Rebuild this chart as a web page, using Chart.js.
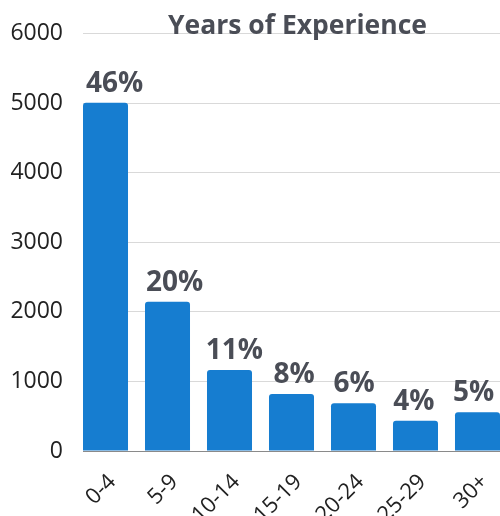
<!DOCTYPE html>
<html>
<head>
<meta charset="utf-8">
<script src="https://cdn.jsdelivr.net/npm/chart.js@4"></script>
<style>
  html, body { margin: 0; padding: 0; background: #fff; overflow: hidden; }
  #wrap { width: 500px; height: 516px; overflow: hidden; }
</style>
</head>
<body>
<div id="wrap"><canvas id="chart" width="500" height="516"></canvas></div>
<script>
const CATEGORIES = ["0-4", "5-9", "10-14", "15-19", "20-24", "25-29", "30+"];
const COUNTS = [5010, 2145, 1165, 820, 685, 435, 556];
const PERCENT_LABELS = ["46%", "20%", "11%", "8%", "6%", "4%", "5%"];
const Y_TICKS = [0, 1000, 2000, 3000, 4000, 5000, 6000];
const TITLE = "Years of Experience";

const BAR_COLOR = "#167dd0";
const TEXT_DARK = "#4a4d56";
const FONT = "'Open Sans', 'Noto Sans', sans-serif";
const BAR_FRACTION = 0.726;
// bars sit flush against both edges of the plot
const X_EDGE = (1 - BAR_FRACTION) / 2 - 0.5;

const titlePlugin = {
  id: "plotTitle",
  afterDraw(chart) {
    const { ctx, chartArea } = chart;
    ctx.save();
    ctx.font = `bold 26.5px ${FONT}`;
    ctx.fillStyle = TEXT_DARK;
    ctx.textAlign = "center";
    ctx.textBaseline = "alphabetic";
    ctx.fillText(TITLE, (chartArea.left + chartArea.right) / 2 + 6, chartArea.top);
    ctx.restore();
  },
};

const percentPlugin = {
  id: "percentLabels",
  afterDatasetsDraw(chart) {
    const { ctx, chartArea } = chart;
    const meta = chart.getDatasetMeta(0);
    ctx.save();
    ctx.font = `bold 28px ${FONT}`;
    ctx.fillStyle = TEXT_DARK;
    ctx.textAlign = "center";
    ctx.textBaseline = "alphabetic";
    meta.data.forEach((bar, i) => {
      const shift = 10 - 0.035 * (bar.x - chartArea.left);
      ctx.fillText(PERCENT_LABELS[i], bar.x + shift, bar.y - 11);
    });
    ctx.restore();
  },
};

new Chart(document.getElementById("chart"), {
  type: "bar",
  data: {
    datasets: [{
      data: COUNTS.map((v, i) => ({ x: i, y: v })),
      backgroundColor: BAR_COLOR,
      borderRadius: { topLeft: 3, topRight: 3 },
      borderSkipped: "bottom",
      barPercentage: BAR_FRACTION,
      categoryPercentage: 1,
    }],
  },
  options: {
    responsive: false,
    animation: false,
    layout: { padding: { top: 33, left: 0, right: 0, bottom: 0 } },
    plugins: {
      legend: { display: false },
      tooltip: { enabled: false },
    },
    scales: {
      x: {
        type: "linear",
        bounds: "data",
        offset: false,
        min: X_EDGE,
        max: CATEGORIES.length - 1 - X_EDGE,
        grid: { display: false, offset: false },
        border: { display: true, color: "#8a8a8a", width: 1 },
        afterBuildTicks: (scale) => { scale.ticks = CATEGORIES.map((c, i) => ({ value: i })); },
        ticks: {
          color: "#222",
          font: { family: FONT, size: 22 },
          minRotation: 45,
          maxRotation: 45,
          padding: 10,
          labelOffset: 7,
          callback: (v) => CATEGORIES[v],
        },
        afterFit: (scale) => {
          scale.height = 65;
          scale.paddingLeft = 0;
          scale.paddingRight = 0;
        },
      },
      y: {
        min: 0,
        max: 6000,
        afterBuildTicks: (scale) => { scale.ticks = Y_TICKS.map((v) => ({ value: v })); },
        grid: {
          color: (c) => (c.tick && c.tick.value === 0 ? "#8a8a8a" : "#d9d9d9"),
          drawTicks: false,
        },
        border: { display: false },
        ticks: {
          color: "#222",
          font: { family: FONT, size: 23 },
          padding: 20,
          callback: (v) => String(v),
        },
        afterFit: (scale) => { scale.width = 83; },
      },
    },
  },
  plugins: [titlePlugin, percentPlugin],
});
</script>
</body>
</html>
